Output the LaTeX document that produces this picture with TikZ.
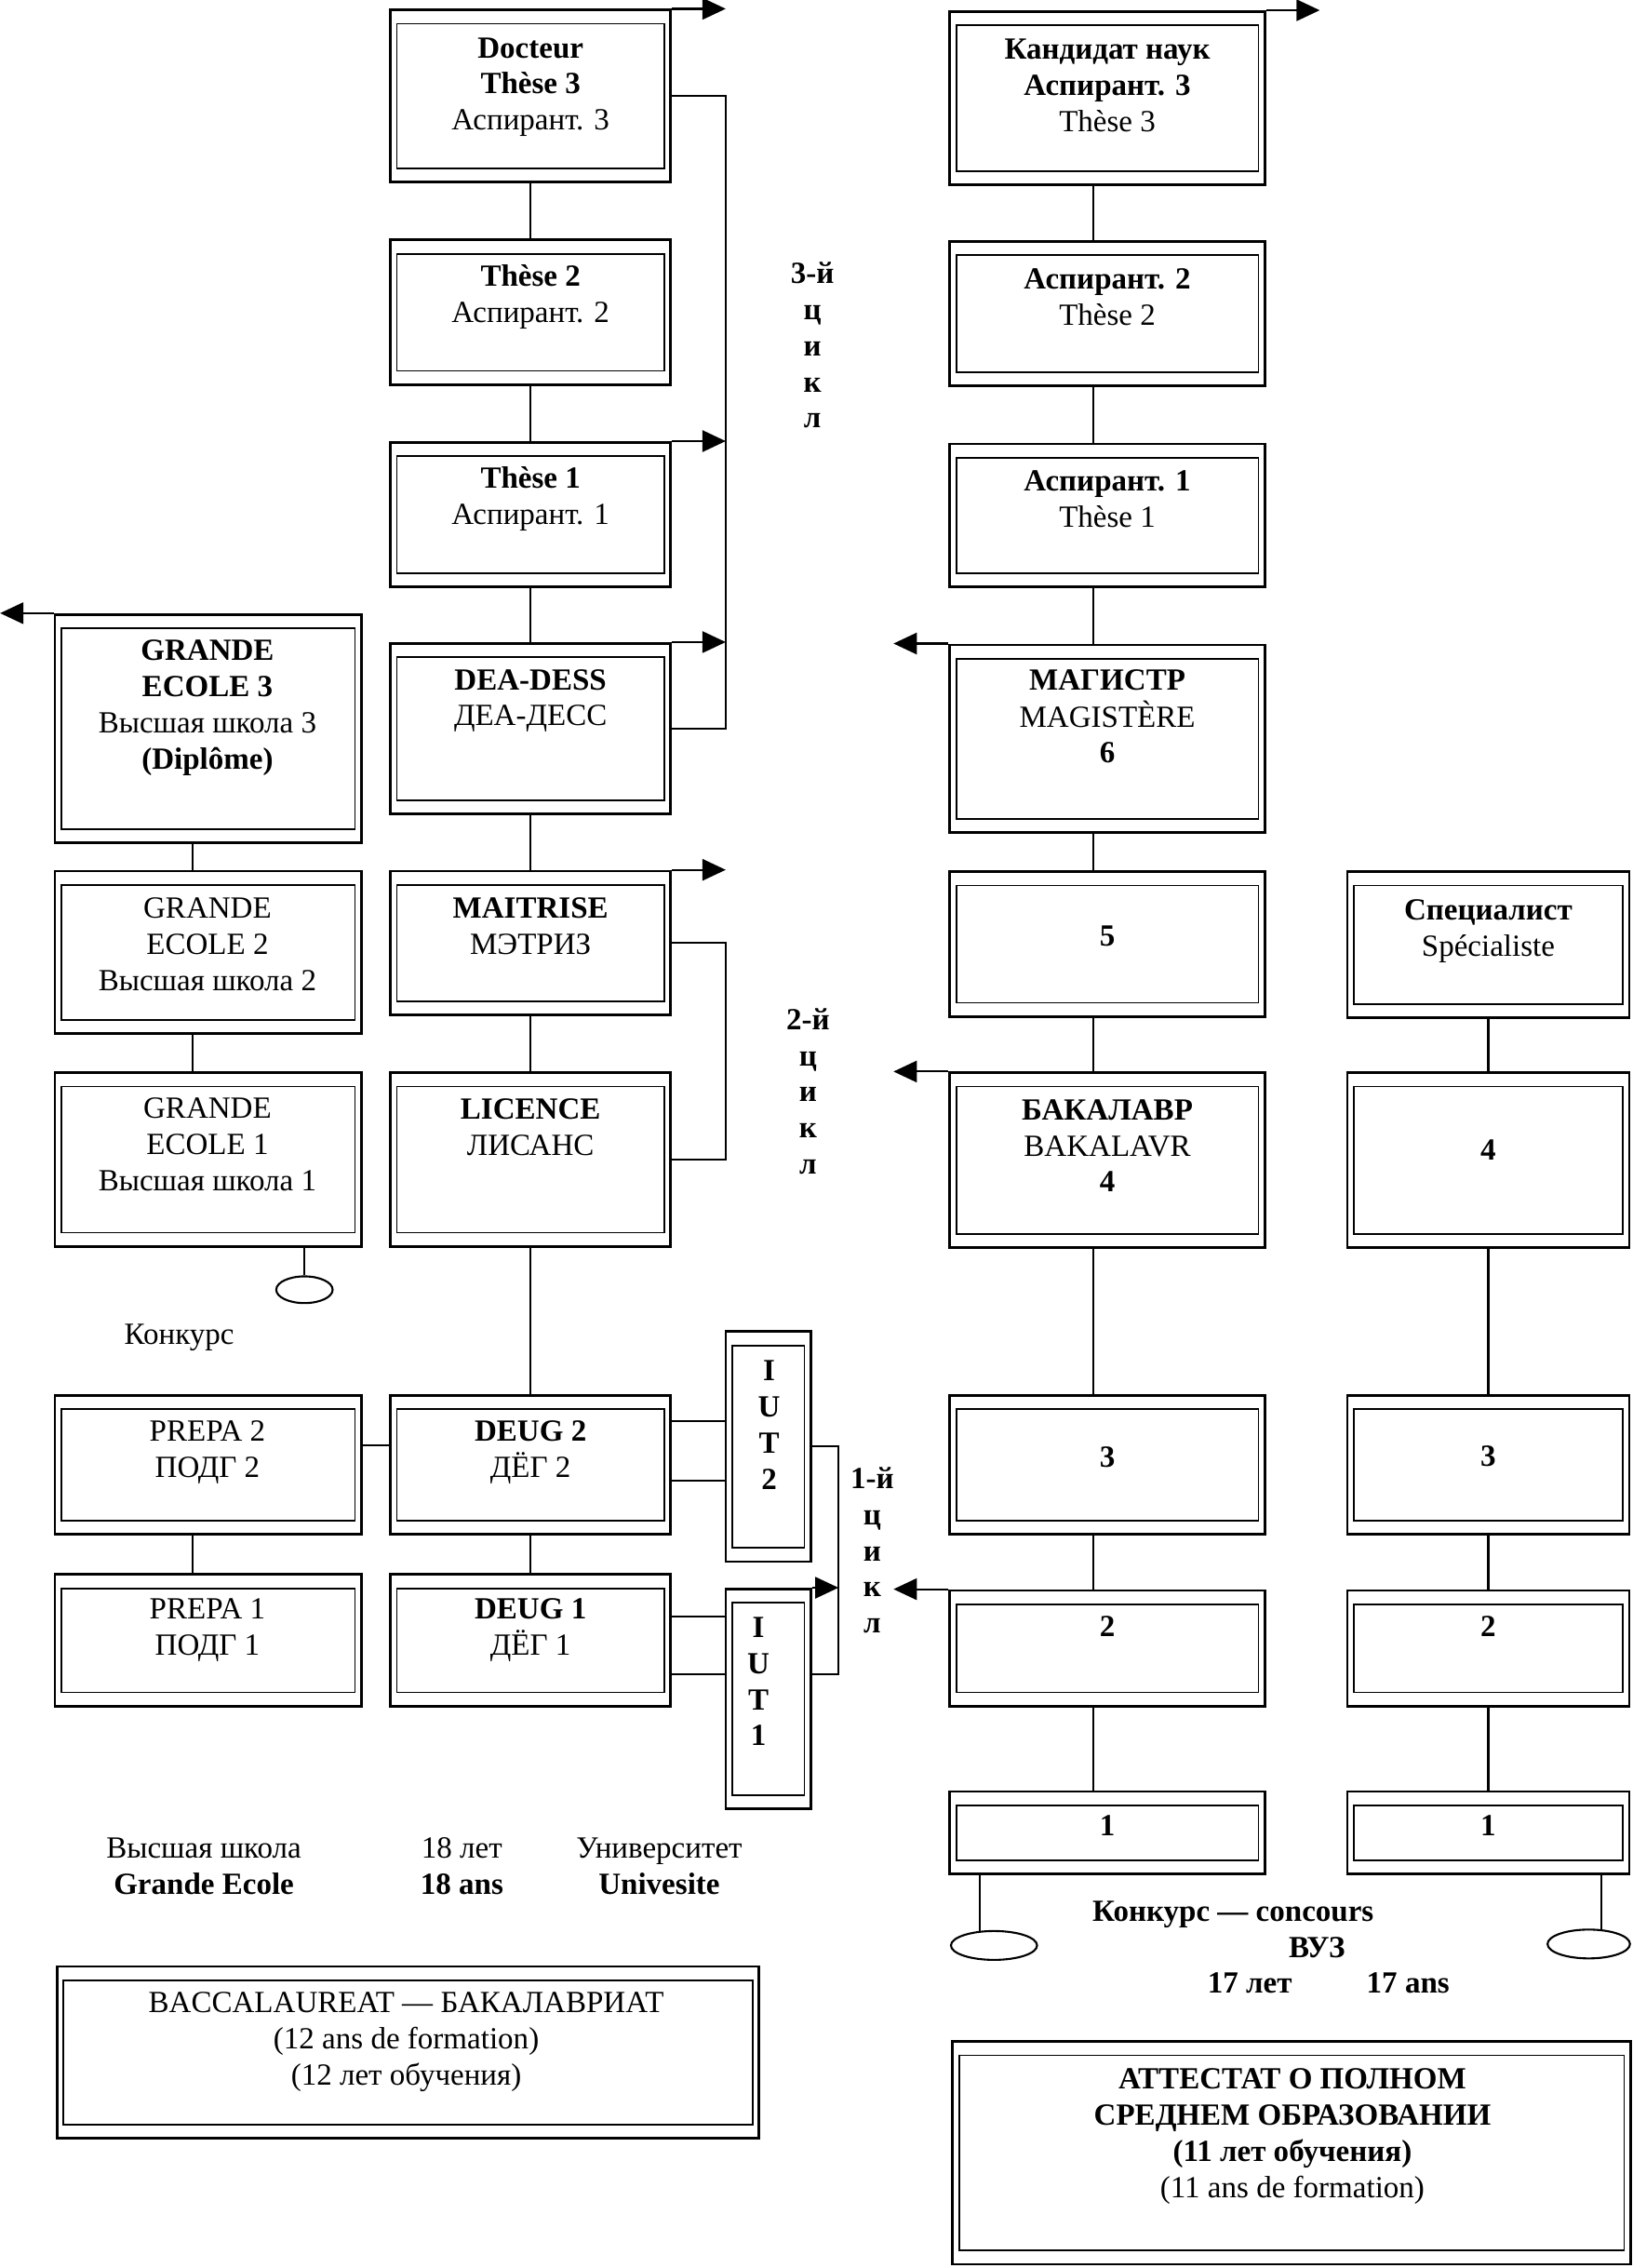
\documentclass[tikz,border=0pt]{standalone}
\usepackage{fontspec}
\setmainfont{Liberation Serif}
\usetikzlibrary{arrows.meta,fit,calc,shapes.geometric}
\newcommand\tl[1]{\begin{tabular}[t]{@{}c@{}}#1\end{tabular}}
\begin{document}
\begin{tikzpicture}[x=0.15536mm,y=-0.15536mm,
 dbox/.style={draw,line width=0.8pt,inner sep=0pt,path picture={\draw[line width=0.5pt] ([shift={(4.5,9.5)}]path picture bounding box.north west) rectangle ([shift={(-4.5,-9.5)}]path picture bounding box.south east);}},
 lbl/.style={inner sep=0pt,anchor=base,font=\fontsize{9.4pt}{11.05pt}\selectfont},
 conn/.style={line width=0.6pt},
 arr/.style={line width=0.6pt,-{Triangle[length=2.5mm,width=2.3mm]}},
 oval/.style={draw,ellipse,line width=0.6pt,inner sep=0pt}]
\path[use as bounding box,fill=white] (0,0) rectangle (1129,1568.6);

% ---------- boxes: Grande Ecole column
\node[dbox,fit={(38,425) (250,583)}] (ge3) {};
\node[dbox,fit={(38,602.5) (250,715)}] (ge2) {};
\node[dbox,fit={(38,742) (250,862)}] (ge1) {};
\node[dbox,fit={(38,965) (250,1061)}] (prepa2) {};
\node[dbox,fit={(38,1089) (250,1180)}] (prepa1) {};
% ---------- university column
\node[dbox,fit={(270,7) (464,126)}] (doc) {};
\node[dbox,fit={(270,166) (464,266)}] (th2) {};
\node[dbox,fit={(270,306) (464,406)}] (th1) {};
\node[dbox,fit={(270,445) (464,563)}] (dea) {};
\node[dbox,fit={(270,602.5) (464,702)}] (mai) {};
\node[dbox,fit={(270,742) (464,862)}] (lic) {};
\node[dbox,fit={(270,965) (464,1061)}] (deug2) {};
\node[dbox,fit={(270,1089) (464,1180)}] (deug1) {};
\node[dbox,fit={(502,921) (561,1080)}] (iut2) {};
\node[dbox,fit={(502,1099) (561,1251)}] (iut1) {};
% ---------- Russian column
\node[dbox,fit={(657,8) (875,128)}] (kand) {};
\node[dbox,fit={(657,167) (875,267)}] (asp2) {};
\node[dbox,fit={(657,307) (875,406)}] (asp1) {};
\node[dbox,fit={(657,446) (875,576)}] (mag) {};
\node[dbox,fit={(657,603) (875,703)}] (c5) {};
\node[dbox,fit={(657,742) (875,863)}] (bak) {};
\node[dbox,fit={(657,965) (875,1061)}] (c3) {};
\node[dbox,fit={(657,1100) (875,1180)}] (c2) {};
\node[dbox,fit={(657,1239) (875,1296)}] (c1) {};
% ---------- specialist column
\node[dbox,fit={(932,603) (1127,704)}] (spec) {};
\node[dbox,fit={(932,742) (1127,863)}] (d4) {};
\node[dbox,fit={(932,965) (1127,1061)}] (d3) {};
\node[dbox,fit={(932,1100) (1127,1180)}] (d2) {};
\node[dbox,fit={(932,1239) (1127,1296)}] (d1) {};
% ---------- bottom boxes
\node[dbox,fit={(39.5,1360) (525,1479)}] (bacc) {};
\node[dbox,fit={(659,1412) (1128,1566)}] (att) {};
% ---------- ovals
\node[oval,minimum width=6.06mm,minimum height=2.87mm] (el1) at (210.6,892) {};
\node[oval,minimum width=9.26mm,minimum height=3.1mm] (el2) at (687.6,1345.5) {};
\node[oval,minimum width=8.86mm,minimum height=3.1mm] (el3) at (1099,1344.5) {};

% ---------- texts
\node[lbl] (t-ge3) at (143.5,457) {\tl{\textbf{GRANDE}\\\textbf{ECOLE 3}\\Высшая школа 3\\\textbf{(Diplôme)}}};
\node[lbl] (t-ge2) at (143.5,635) {\tl{GRANDE\\ECOLE 2\\Высшая школа 2}};
\node[lbl] (t-ge1) at (143.5,773.5) {\tl{GRANDE\\ECOLE 1\\Высшая школа 1}};
\node[lbl] (t-konk) at (124,929.5) {Конкурс};
\node[lbl] (t-p2) at (143.5,996.5) {\tl{PREPA 2\\ПОДГ 2}};
\node[lbl] (t-p1) at (143.5,1119.5) {\tl{PREPA 1\\ПОДГ 1}};

\node[lbl] (t-doc) at (367,40) {\tl{\textbf{Docteur}\\\textbf{Thèse 3}\\Аспирант. 3}};
\node[lbl] (t-th2) at (367,198) {\tl{\textbf{Thèse 2}\\Аспирант. 2}};
\node[lbl] (t-th1) at (367,337.5) {\tl{\textbf{Thèse 1}\\Аспирант. 1}};
\node[lbl] (t-dea) at (367,477) {\tl{\textbf{DEA-DESS}\\ДЕА-ДЕСС}};
\node[lbl] (t-mai) at (367,635) {\tl{\textbf{MAITRISE}\\МЭТРИЗ}};
\node[lbl] (t-lic) at (367,774) {\tl{\textbf{LICENCE}\\ЛИСАНС}};
\node[lbl] (t-deug2) at (367,996.5) {\tl{\textbf{DEUG 2}\\ДЁГ 2}};
\node[lbl] (t-deug1) at (367,1119.5) {\tl{\textbf{DEUG 1}\\ДЁГ 1}};
\node[lbl] (t-iut2) at (532,955) {\tl{\textbf{I}\\\textbf{U}\\\textbf{T}\\\textbf{2}}};
\node[lbl] (t-iut1) at (524.6,1132.5) {\tl{\textbf{I}\\\textbf{U}\\\textbf{T}\\\textbf{1}}};

\node[lbl] (t-cy3) at (562,196) {\tl{\textbf{3-й}\\\textbf{ц}\\\textbf{и}\\\textbf{к}\\\textbf{л}}};
\node[lbl] (t-cy2) at (559,712) {\tl{\textbf{2-й}\\\textbf{ц}\\\textbf{и}\\\textbf{к}\\\textbf{л}}};
\node[lbl] (t-cy1) at (603.4,1029.5) {\tl{\textbf{1-й}\\\textbf{ц}\\\textbf{и}\\\textbf{к}\\\textbf{л}}};

\node[lbl] (t-kand) at (766,41) {\tl{\textbf{Кандидат наук}\\\textbf{Аспирант. 3}\\Thèse 3}};
\node[lbl] (t-asp2) at (766,200) {\tl{\textbf{Аспирант. 2}\\Thèse 2}};
\node[lbl] (t-asp1) at (766,339.5) {\tl{\textbf{Аспирант. 1}\\Thèse 1}};
\node[lbl] (t-mag) at (766,477) {\tl{\textbf{МАГИСТР}\\MAGISTÈRE\\\textbf{6}}};
\node[lbl] (t-c5) at (766,654) {\textbf{5}};
\node[lbl] (t-bak) at (766,774.5) {\tl{\textbf{БАКАЛАВР}\\BAKALAVR\\\textbf{4}}};
\node[lbl] (t-c3) at (766,1015) {\textbf{3}};
\node[lbl] (t-c2) at (766,1132) {\textbf{2}};
\node[lbl] (t-c1) at (766,1269.5) {\textbf{1}};

\node[lbl] (t-spec) at (1029.5,636.5) {\tl{\textbf{Специалист}\\Spécialiste}};
\node[lbl] (t-d4) at (1029.5,802) {\textbf{4}};
\node[lbl] (t-d3) at (1029.5,1014) {\textbf{3}};
\node[lbl] (t-d2) at (1029.5,1132) {\textbf{2}};
\node[lbl] (t-d1) at (1029.5,1269.5) {\textbf{1}};

\node[lbl] (t-vs) at (141,1285) {\tl{Высшая школа\\\textbf{Grande Ecole}}};
\node[lbl] (t-18) at (319.5,1285) {\tl{18 лет\\\textbf{18 ans}}};
\node[lbl] (t-univ) at (456,1285) {\tl{Университет\\\textbf{Univesite}}};
\node[lbl] (t-konc) at (853,1329) {\textbf{Конкурс — concours}};
\node[lbl] (t-vuz) at (911,1354) {\textbf{ВУЗ}};
\node[lbl] (t-17l) at (864.6,1378.6) {\textbf{17 лет}};
\node[lbl] (t-17a) at (974,1378.6) {\textbf{17 ans}};
\node[lbl] (t-bacc) at (281,1392) {\tl{BACCALAUREAT — БАКАЛАВРИАТ\\(12 ans de formation)\\(12 лет обучения)}};
\node[lbl] (t-att) at (894,1445) {\tl{\textbf{АТТЕСТАТ О ПОЛНОМ}\\\textbf{СРЕДНЕМ ОБРАЗОВАНИИ}\\\textbf{(11 лет обучения)}\\(11 ans de formation)}};

% ---------- connectors: Grande Ecole
\draw[conn] ($(ge3.south)+(-11,0)$) -- ($(ge2.north)+(-11,0)$);
\draw[conn] ($(ge2.south)+(-11,0)$) -- ($(ge1.north)+(-11,0)$);
\draw[conn] ($(prepa2.south)+(-11,0)$) -- ($(prepa1.north)+(-11,0)$);
\draw[conn] (ge1.south -| el1.north) -- (el1.north);
\coordinate (pd) at ($(prepa2.north east)+(0,35.5)$);
\draw[conn] (pd) -- (pd -| deug2.west);
\draw[arr] (ge3.north west) -- ++(-37,0);
% ---------- university
\draw[conn] (doc.south) -- (th2.north);
\draw[conn] (th2.south) -- (th1.north);
\draw[conn] (th1.south) -- (dea.north);
\draw[conn] (dea.south) -- (mai.north);
\draw[conn] (mai.south) -- (lic.north);
\draw[conn] (lic.south) -- (deug2.north);
\draw[conn] (deug2.south) -- (deug1.north);
\coordinate (b3) at (502,0);
\draw[arr] (doc.north east) -- (doc.north east -| b3);
\draw[arr] (th1.north east) -- (th1.north east -| b3);
\draw[arr] (dea.north east) -- (dea.north east -| b3);
\draw[arr] (mai.north east) -- (mai.north east -| b3);
\draw[conn] (doc.east) -| (b3 |- dea.east) -- (dea.east);
\draw[conn] (mai.east) -| (b3 |- lic.east) -- (lic.east);
\coordinate (i2a) at ($(deug2.north east)+(0,19)$);
\coordinate (i2b) at ($(deug2.north east)+(0,60)$);
\draw[conn] (i2a) -- (i2a -| iut2.west);
\draw[conn] (i2b) -- (i2b -| iut2.west);
\coordinate (i1a) at ($(deug1.north east)+(0,30)$);
\coordinate (i1b) at ($(deug1.north east)+(0,70)$);
\draw[conn] (i1a) -- (i1a -| iut1.west);
\draw[conn] (i1b) -- (i1b -| iut1.west);
\coordinate (b1) at (580,0);
\coordinate (i1r) at ($(iut1.north east)+(0,60)$);
\draw[conn] (iut2.east) -| (b1 |- i1r) -- (i1r);
\draw[arr] (iut1.north east) -- (iut1.north east -| b1);
% ---------- Russian column
\draw[conn] ($(kand.south)+(-10,0)$) -- ($(asp2.north)+(-10,0)$);
\draw[conn] ($(asp2.south)+(-10,0)$) -- ($(asp1.north)+(-10,0)$);
\draw[conn] ($(asp1.south)+(-10,0)$) -- ($(mag.north)+(-10,0)$);
\draw[conn] ($(mag.south)+(-10,0)$) -- ($(c5.north)+(-10,0)$);
\draw[conn] ($(c5.south)+(-10,0)$) -- ($(bak.north)+(-10,0)$);
\draw[conn] ($(bak.south)+(-10,0)$) -- ($(c3.north)+(-10,0)$);
\draw[conn] ($(c3.south)+(-10,0)$) -- ($(c2.north)+(-10,0)$);
\draw[conn] ($(c2.south)+(-10,0)$) -- ($(c1.north)+(-10,0)$);
\draw[arr] (kand.north east) -- ++(37,0);
\draw[arr] (mag.north west) -- ++(-38,0);
\draw[arr] (bak.north west) -- ++(-38,0);
\draw[arr] (c2.north west) -- ++(-38,0);
\coordinate (e2x) at (677.7,0);
\draw[conn] (c1.south -| e2x) -- ([yshift=-0.1mm]el2.north -| e2x);
% ---------- specialist column
\draw[conn] (spec.south) -- (d4.north);
\draw[conn] (d4.south) -- (d3.north);
\draw[conn] (d3.south) -- (d2.north);
\draw[conn] (d2.south) -- (d1.north);
\coordinate (e3x) at (1107.8,0);
\draw[conn] (d1.south -| e3x) -- ([yshift=-0.1mm]el3.north -| e3x);
\end{tikzpicture}
\end{document}
